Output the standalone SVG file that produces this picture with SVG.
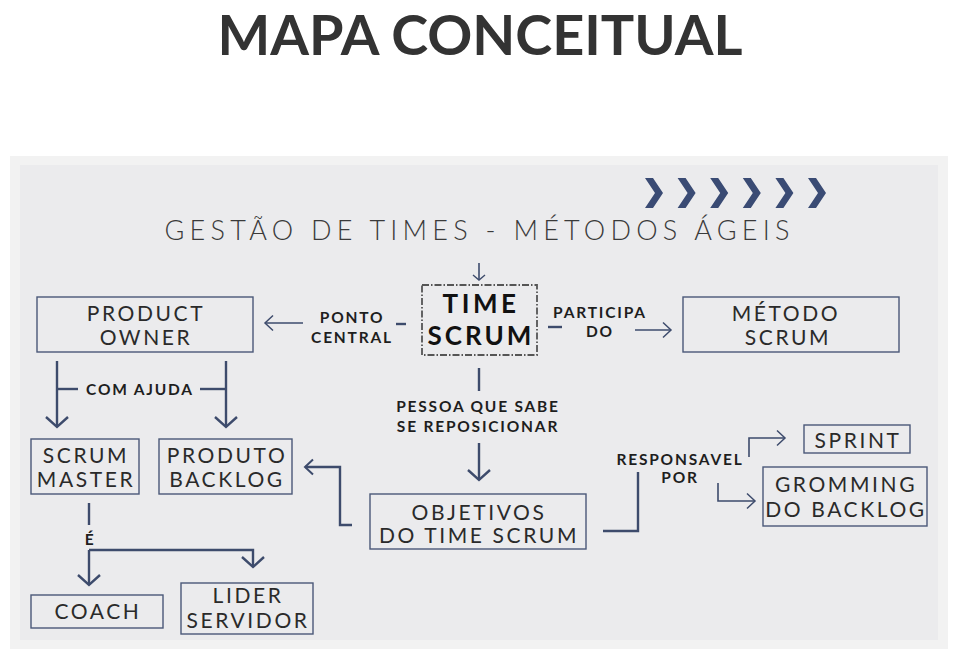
<svg xmlns="http://www.w3.org/2000/svg" width="970" height="670" viewBox="0 0 970 670">
<defs>
<style>
.box{fill:none;stroke:#4a5878;stroke-width:1.4}
.nt{font-family:Lato,"Liberation Sans",sans-serif;font-size:21px;letter-spacing:2.6px;fill:#2a2a2a;text-anchor:middle}
.lb{font-family:Lato,"Liberation Sans",sans-serif;font-weight:700;font-size:15.5px;letter-spacing:1.8px;fill:#1e1e1e;text-anchor:middle}
.c{fill:none;stroke:#3d4b6c;stroke-width:2.4}
.ct{fill:none;stroke:#3d4b6c;stroke-width:1.6}
.chev{fill:#3a4b74}
</style>
<marker id="ah" viewBox="-12 -13 14 26" refX="0" refY="0" markerWidth="14" markerHeight="26" markerUnits="userSpaceOnUse" orient="auto">
<path d="M-10,-11 L0,0 L-10,11" fill="none" stroke="#3d4b6c" stroke-width="2.4"/>
</marker>
<marker id="am" viewBox="-10 -10 12 20" refX="0" refY="0" markerWidth="12" markerHeight="20" markerUnits="userSpaceOnUse" orient="auto">
<path d="M-8,-7.5 L0,0 L-8,7.5" fill="none" stroke="#3d4b6c" stroke-width="2"/>
</marker>
<marker id="at" viewBox="-10 -10 12 20" refX="0" refY="0" markerWidth="12" markerHeight="20" markerUnits="userSpaceOnUse" orient="auto">
<path d="M-8,-7.5 L0,0 L-8,7.5" fill="none" stroke="#3d4b6c" stroke-width="1.5"/>
</marker>
<marker id="as" viewBox="-8 -8 10 16" refX="0" refY="0" markerWidth="10" markerHeight="16" markerUnits="userSpaceOnUse" orient="auto">
<path d="M-5,-6 L0,0 L-5,6" fill="none" stroke="#3d4b6c" stroke-width="1.4"/>
</marker>
</defs>
<rect x="0" y="0" width="970" height="670" fill="#ffffff"/>
<text x="480" y="55" font-family="Lato,'Liberation Sans',sans-serif" font-weight="700" font-size="55" fill="#333333" text-anchor="middle" textLength="525" lengthAdjust="spacingAndGlyphs">MAPA CONCEITUAL</text>
<rect x="10" y="156" width="938" height="493" fill="#f2f2f2"/>
<rect x="20" y="165" width="918" height="475" fill="#ebebed"/>
<g id="chevrons">
<polygon class="chev" points="645,178 653,178 663,193 653,208 645,208 655,193"/>
<polygon class="chev" points="677.6,178 685.6,178 695.6,193 685.6,208 677.6,208 687.6,193"/>
<polygon class="chev" points="710.2,178 718.2,178 728.2,193 718.2,208 710.2,208 720.2,193"/>
<polygon class="chev" points="742.8,178 750.8,178 760.8,193 750.8,208 742.8,208 752.8,193"/>
<polygon class="chev" points="775.4,178 783.4,178 793.4,193 783.4,208 775.4,208 785.4,193"/>
<polygon class="chev" points="808,178 816,178 826,193 816,208 808,208 818,193"/>
</g>
<text x="477" y="240" font-family="Lato,'Liberation Sans',sans-serif" font-weight="300" font-size="27" fill="#3a3a3a" text-anchor="middle" textLength="625" lengthAdjust="spacing">GESTÃO DE TIMES - MÉTODOS ÁGEIS</text>
<g id="connectors">
<path class="ct" d="M479,263 V280" marker-end="url(#as)"/>
<path class="ct" d="M303,323 H265" marker-end="url(#at)"/>
<path class="c" d="M396,324 H406"/>
<path class="c" d="M548,327 H562"/>
<path class="ct" d="M635,330 H671" marker-end="url(#at)"/>
<path class="c" d="M57,361 V427" marker-end="url(#ah)"/>
<path class="c" d="M226,361 V427" marker-end="url(#ah)"/>
<path class="c" d="M57,389 H78"/>
<path class="c" d="M200,389 H226"/>
<path class="c" d="M479,368 V391"/>
<path class="c" d="M479,443 V480" marker-end="url(#ah)"/>
<path class="c" d="M352,525 H340 V467 H305" marker-end="url(#am)"/>
<path class="c" d="M89,503 V525"/>
<path class="c" d="M89,550 V585" marker-end="url(#ah)"/>
<path class="c" d="M89,550 H253 V567" marker-end="url(#ah)"/>
<path class="c" d="M603,531 H638 V472"/>
<path class="ct" d="M749,457 V438 H785" marker-end="url(#at)"/>
<path class="ct" d="M718,483 V501 H755" marker-end="url(#at)"/>
<text class="lb" x="352" y="323">PONTO</text>
<text class="lb" x="352" y="343">CENTRAL</text>
<text class="lb" x="600" y="318">PARTICIPA</text>
<text class="lb" x="600" y="337">DO</text>
<text class="lb" x="478" y="412">PESSOA QUE SABE</text>
<text class="lb" x="478" y="432">SE REPOSICIONAR</text>
<text class="lb" x="140" y="395">COM AJUDA</text>
<text class="lb" x="90" y="545">É</text>
<text class="lb" x="680" y="465">RESPONSAVEL</text>
<text class="lb" x="680" y="483">POR</text>
</g>
<g id="time-scrum">
<rect x="422" y="285" width="115" height="70" fill="none" stroke="#555" stroke-width="1.8" stroke-dasharray="7 2 1.5 2"/>
<text x="481" y="313" font-family="Lato,'Liberation Sans',sans-serif" font-weight="700" font-size="26" letter-spacing="3.5" fill="#111" text-anchor="middle">TIME</text>
<text x="481" y="345" font-family="Lato,'Liberation Sans',sans-serif" font-weight="700" font-size="26" letter-spacing="3" fill="#111" text-anchor="middle">SCRUM</text>
</g>
<g id="product-owner">
<rect class="box" x="37" y="297" width="216" height="55"/>
<text class="nt" x="146" y="321">PRODUCT</text>
<text class="nt" x="146" y="345">OWNER</text>
</g>
<g id="metodo-scrum">
<rect class="box" x="683" y="297" width="216" height="55"/>
<text class="nt" x="786" y="321">MÉTODO</text>
<text class="nt" x="788" y="345">SCRUM</text>
</g>
<g id="scrum-master">
<rect class="box" x="31" y="439" width="108" height="55"/>
<text class="nt" x="86" y="463">SCRUM</text>
<text class="nt" x="86" y="487">MASTER</text>
</g>
<g id="produto-backlog">
<rect class="box" x="159" y="439" width="133" height="55"/>
<text class="nt" x="227" y="463">PRODUTO</text>
<text class="nt" x="227" y="487">BACKLOG</text>
</g>
<g id="coach">
<rect class="box" x="31" y="595" width="132" height="33"/>
<text class="nt" x="98" y="619">COACH</text>
</g>
<g id="lider-servidor">
<rect class="box" x="181" y="583" width="132" height="51"/>
<text class="nt" x="248" y="603">LIDER</text>
<text class="nt" x="248" y="628">SERVIDOR</text>
</g>
<g id="objetivos">
<rect class="box" x="370" y="494" width="216" height="55"/>
<text class="nt" x="479" y="520">OBJETIVOS</text>
<text class="nt" x="479" y="543">DO TIME SCRUM</text>
</g>
<g id="sprint">
<rect class="box" x="804" y="425" width="106" height="28"/>
<text class="nt" x="858" y="448">SPRINT</text>
</g>
<g id="gromming">
<rect class="box" x="763" y="467" width="164" height="59"/>
<text class="nt" x="846" y="492">GROMMING</text>
<text class="nt" x="846" y="517">DO BACKLOG</text>
</g>
</svg>
